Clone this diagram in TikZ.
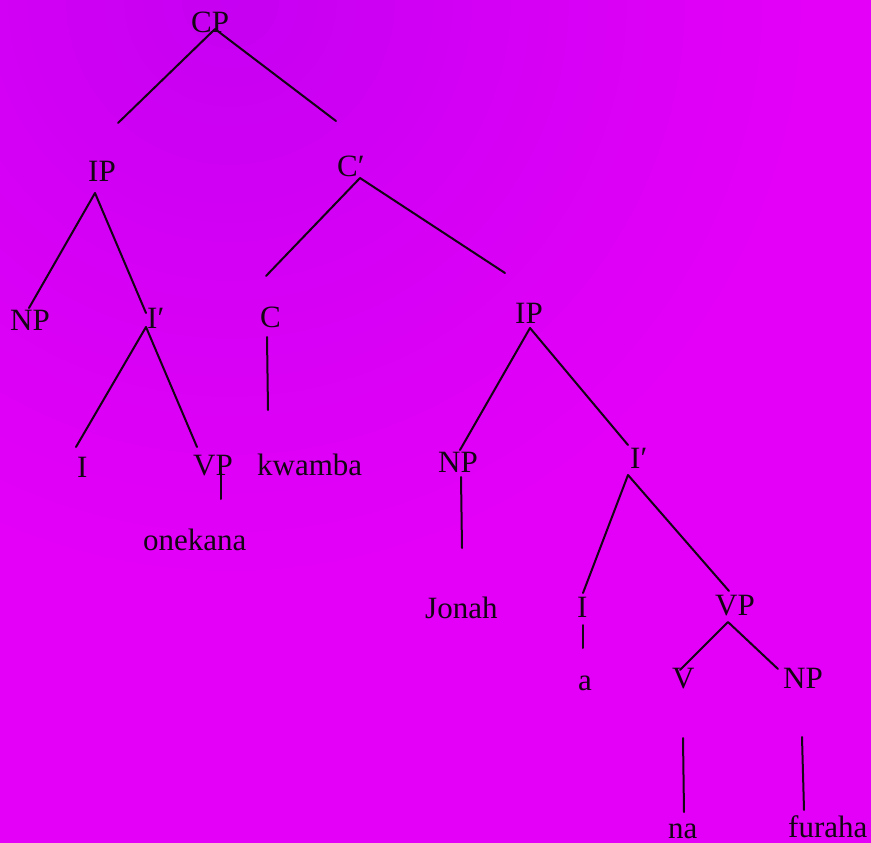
\documentclass[tikz,border=0pt]{standalone}
\usepackage{fontspec}
\setmainfont{Liberation Serif}
\definecolor{bgmag}{RGB}{228,0,248}
\definecolor{bgpurple}{RGB}{198,0,242}
\definecolor{ink}{RGB}{20,5,20}
\tikzset{
	lbl/.style={anchor=base west, inner sep=0pt, text=ink},
	branch/.style={draw=ink, line width=2pt}
}
\begin{document}
\begin{tikzpicture}[x=1pt, y=-1pt, font=\fontsize{31}{36}\selectfont, line join=round, line cap=round]
	\useasboundingbox (0,0) rectangle (871,843);
	% background
	\fill[bgmag] (0,0) rectangle (871,843);
	\begin{scope}
		\clip (0,0) rectangle (871,843);
		\shade[inner color=bgpurple, outer color=bgmag] (230,0) circle (580);
	\end{scope}
	% labels
	\node[lbl] (CP) at (191,33) {CP};
	\node[lbl] (IPa) at (88,181) {IP};
	\node[lbl] (Cbar) at (337,176) {C′};
	\node[lbl] (NPa) at (10,330) {NP};
	\node[lbl] (Ibara) at (147,328) {I′};
	\node[lbl] (C) at (260,327) {C};
	\node[lbl] (IPb) at (515,323) {IP};
	\node[lbl] (Ia) at (77,477) {I};
	\node[lbl] (VPa) at (193,475) {VP};
	\node[lbl] (kwamba) at (257,475) {kwamba};
	\node[lbl] (NPb) at (438,472) {NP};
	\node[lbl] (Ibarb) at (630,468) {I′};
	\node[lbl] (onekana) at (143,550) {onekana};
	\node[lbl] (Jonah) at (425,618) {Jonah};
	\node[lbl] (Ib) at (577,617) {I};
	\node[lbl] (VPb) at (715,615) {VP};
	\node[lbl] (a) at (578,690) {a};
	\node[lbl] (V) at (672,688) {V};
	\node[lbl] (NPc) at (783,688) {NP};
	\node[lbl] (na) at (668,838) {na};
	\node[lbl] (furaha) at (788,837) {furaha};
	% free ends of the branches
	\coordinate (CP-l) at (118,123);
	\coordinate (CP-r) at (336,121);
	\coordinate (IPa-l) at (29,308);
	\coordinate (IPa-r) at (146,313);
	\coordinate (Cbar-l) at (266,276);
	\coordinate (Cbar-r) at (505,273);
	\coordinate (Ibara-l) at (76,447);
	\coordinate (Ibara-r) at (197,447);
	\coordinate (VPa-d) at (221,499);
	\coordinate (C-d) at (268,410);
	\coordinate (IPb-l) at (460,450);
	\coordinate (IPb-r) at (628,445);
	\coordinate (NPb-d) at (462,548);
	\coordinate (Ibarb-l) at (583,593);
	\coordinate (Ibarb-r) at (729,591);
	\coordinate (Ib-d) at (583,648);
	\coordinate (VPb-l) at (680,670);
	\coordinate (VPb-r) at (778,669);
	\coordinate (V-d) at (684,812);
	\coordinate (NPc-d) at (804,810);
	% branches
	\draw[branch] (CP-l) -- ([shift={(24,-4)}]CP.base west) -- (CP-r);
	\draw[branch] (IPa-l) -- ([shift={(7,12)}]IPa.base west) -- (IPa-r);
	\draw[branch] (Cbar-l) -- ([shift={(23,2)}]Cbar.base west) -- (Cbar-r);
	\draw[branch] (Ibara-l) -- ([shift={(-1,-1)}]Ibara.base west) -- (Ibara-r);
	\draw[branch] ([shift={(28,-2)}]VPa.base west) -- (VPa-d);
	\draw[branch] ([shift={(7,10)}]C.base west) -- (C-d);
	\draw[branch] (IPb-l) -- ([shift={(15,5)}]IPb.base west) -- (IPb-r);
	\draw[branch] ([shift={(23,5)}]NPb.base west) -- (NPb-d);
	\draw[branch] (Ibarb-l) -- ([shift={(-2,7)}]Ibarb.base west) -- (Ibarb-r);
	\draw[branch] ([shift={(6,8)}]Ib.base west) -- (Ib-d);
	\draw[branch] (VPb-l) -- ([shift={(13,7)}]VPb.base west) -- (VPb-r);
	\draw[branch] ([shift={(11,50)}]V.base west) -- (V-d);
	\draw[branch] ([shift={(19,49)}]NPc.base west) -- (NPc-d);
\end{tikzpicture}
\end{document}
